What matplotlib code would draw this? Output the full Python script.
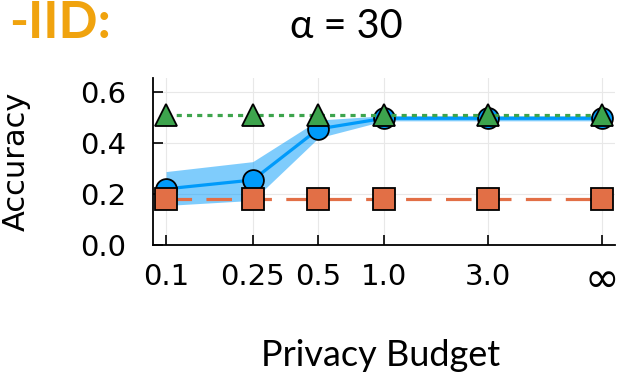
import numpy as np
import matplotlib.pyplot as plt

plt.rcParams['font.family'] = ['DejaVu Sans']

# privacy budgets (inf drawn at 10 on the log axis)
eps = [0.1, 0.25, 0.5, 1.0, 3.0, 10.0]
eps_labels = ['0.1', '0.25', '0.5', '1.0', '3.0', '∞']

blue_mean = [0.22, 0.255, 0.455, 0.497, 0.497, 0.497]
blue_low = [0.155, 0.175, 0.42, 0.487, 0.487, 0.487]
blue_high = [0.288, 0.327, 0.49, 0.507, 0.507, 0.507]
orange_vals = [0.182, 0.182, 0.182, 0.182, 0.182, 0.182]
green_vals = [0.508, 0.508, 0.508, 0.508, 0.508, 0.508]

c_blue = '#009AFA'
c_orange = '#E26F46'
c_green = '#3DA44D'

fig = plt.figure(figsize=(6.21, 3.81), dpi=100)
ax = fig.add_axes([153/621, 1-245/381, 462/621, 167/381])

ax.fill_between(eps, blue_low, blue_high, color=c_blue, alpha=0.5, linewidth=0, zorder=2)
ax.plot(eps, blue_mean, color=c_blue, lw=2.3, marker='o', markersize=15,
        markerfacecolor=c_blue, markeredgecolor='black', markeredgewidth=1.3, zorder=3)
ax.plot(eps, orange_vals, color=c_orange, lw=2.3, dashes=(8, 4.5), marker='s', markersize=15.5,
        markerfacecolor=c_orange, markeredgecolor='black', markeredgewidth=1.3, zorder=4)
ax.plot(eps, green_vals, color=c_green, lw=2.3, dashes=(1.6, 1.6), marker='^', markersize=16,
        markerfacecolor=c_green, markeredgecolor='black', markeredgewidth=1.3, zorder=5)

ax.set_xscale('log')
ax.set_xlim(0.0871, 11.48)
ax.set_ylim(0, 0.655)
ax.set_xticks(eps)
ax.set_xticklabels(eps_labels)
ax.xaxis.set_minor_locator(plt.NullLocator())
ax.set_yticks([0.0, 0.2, 0.4, 0.6])
ax.set_yticklabels(['0.0', '0.2', '0.4', '0.6'])
ax.grid(True, color='#e8e8e8', lw=0.8, zorder=0)
ax.set_axisbelow(True)
for s in ['top', 'right']:
    ax.spines[s].set_visible(False)
for s in ['left', 'bottom']:
    ax.spines[s].set_linewidth(1.3)
ax.tick_params(axis='both', direction='in', length=7, width=1.2, labelsize=21)
ax.tick_params(axis='y', pad=19)
ax.tick_params(axis='x', pad=13)
# the infinity sign is drawn larger in the original
inf_lbl = ax.get_xticklabels()[-1]
inf_lbl.set_fontsize(30)
inf_lbl.set_y(0.025)

ax.set_ylabel('Accuracy', fontsize=22)
ax.yaxis.set_label_coords(-0.264, 0.5)

fig.text(346/621, 1-27/381, 'α = 30', fontsize=28.5, family='Lato', ha='center', va='center')
fig.text(381/621, 1-355/381, 'Privacy Budget', fontsize=26, family='Lato', ha='center', va='center')
fig.text(111/621, 1-38/381, '-IID:', fontsize=37, family='Lato', fontweight='bold',
         color='#F0A30E', ha='right', va='baseline')

fig.savefig('out.png', dpi=100)
